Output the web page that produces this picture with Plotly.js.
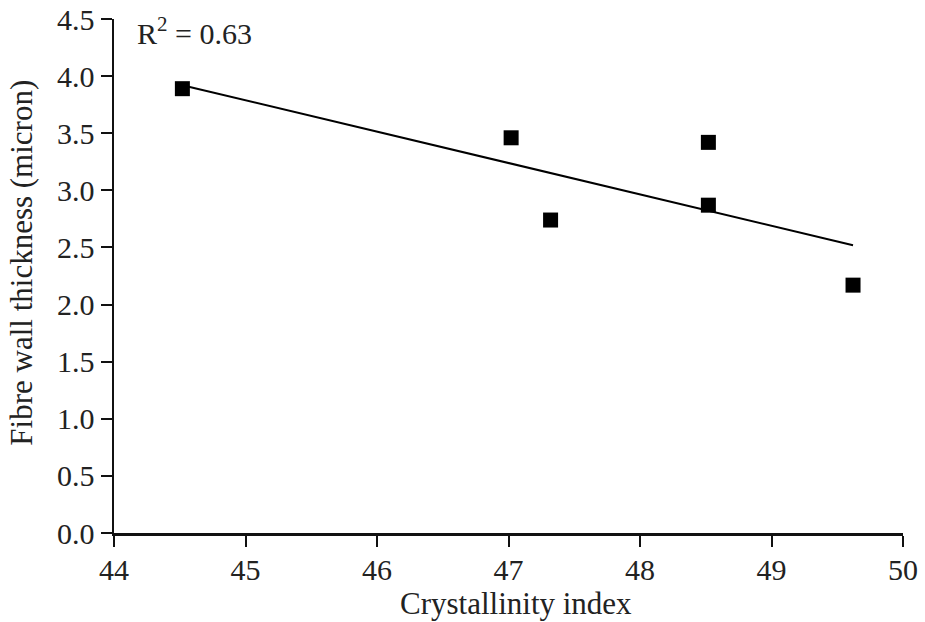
<!DOCTYPE html>
<html>
<head>
<meta charset="utf-8">
<script src="https://cdn.plot.ly/plotly-3.0.1.min.js"></script>
<style>html,body{margin:0;padding:0;background:#fff;}#chart{width:925px;height:622px;}</style>
</head>
<body>
<div id="chart"></div>
<script>
// Data
const crystallinity = [44.52, 47.02, 47.32, 48.52, 48.52, 49.62];
const wallThickness = [3.89, 3.46, 2.74, 3.42, 2.87, 2.17];
// Linear trend line end points (as drawn)
const trendX = [44.52, 49.62];
const trendY = [3.92, 2.52];
const xTicks = [44, 45, 46, 47, 48, 49, 50];
const yTicks = [0, 0.5, 1, 1.5, 2, 2.5, 3, 3.5, 4, 4.5];
const yTickText = yTicks.map(v => v.toFixed(1));
const r2Label = 'R<sup>2</sup> = 0.63';
const xTitle = 'Crystallinity index';
const yTitle = 'Fibre wall thickness (micron)';

const font = 'Liberation Serif';
const tfs = 30;
const titleFs = 31;
const txt = '#222';

const traces = [
  {x: trendX, y: trendY, mode: 'lines', type: 'scatter',
   line: {color: '#000', width: 2}, hoverinfo: 'skip', showlegend: false},
  {x: crystallinity, y: wallThickness, mode: 'markers', type: 'scatter',
   marker: {symbol: 'square', size: 15, color: '#000'}, showlegend: false}
];

const layout = {
  width: 925, height: 622,
  margin: {l: 114, r: 22, t: 19, b: 89},
  paper_bgcolor: '#fff', plot_bgcolor: '#fff',
  font: {family: font, color: txt, size: tfs},
  showlegend: false,
  xaxis: {
    range: [44, 50], tickvals: xTicks, ticktext: xTicks.map(String),
    showgrid: false, zeroline: false, showline: true, linecolor: '#111', linewidth: 2.5,
    ticks: 'outside', ticklen: 11, tickwidth: 2, tickcolor: '#111', ticklabelstandoff: -3,
    tickfont: {family: font, size: tfs, color: txt}
  },
  yaxis: {
    range: [0, 4.5], tickvals: yTicks, ticktext: yTickText,
    showgrid: false, zeroline: false, showline: true, linecolor: '#111', linewidth: 2.5,
    ticks: 'outside', ticklen: 11, tickwidth: 2, tickcolor: '#111',
    tickfont: {family: font, size: tfs, color: txt}
  },
  annotations: [
    {text: r2Label, xref: 'paper', yref: 'paper', x: 0.026, y: 0.976,
     xanchor: 'left', yanchor: 'middle', showarrow: false,
     font: {family: font, size: tfs, color: txt}},
    {text: xTitle, xref: 'paper', yref: 'paper', x: 0.51, y: -0.138,
     xanchor: 'center', yanchor: 'middle', showarrow: false,
     font: {family: font, size: titleFs, color: txt}},
    {text: yTitle, xref: 'paper', yref: 'paper', x: -0.1166, y: 0.526, textangle: -90,
     xanchor: 'center', yanchor: 'middle', showarrow: false,
     font: {family: font, size: titleFs, color: txt}}
  ]
};

Plotly.newPlot('chart', traces, layout, {displayModeBar: false, staticPlot: true});
</script>
</body>
</html>
